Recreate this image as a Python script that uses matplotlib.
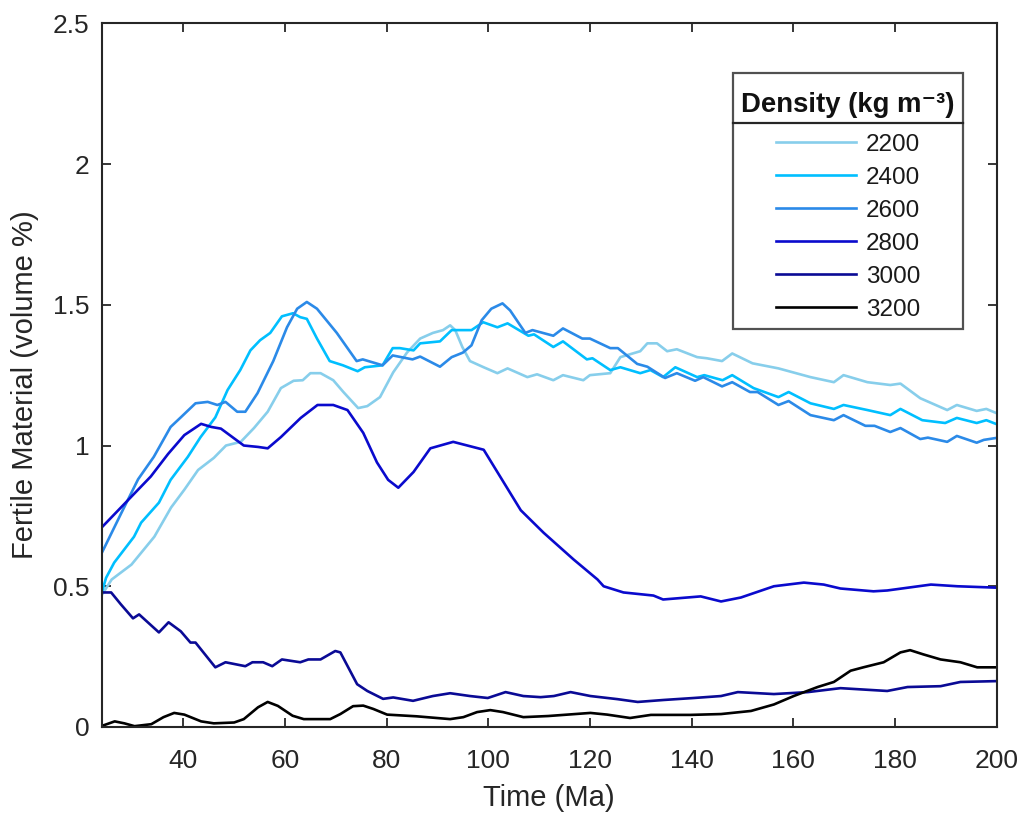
import matplotlib
matplotlib.use("Agg")
import matplotlib.pyplot as plt
from matplotlib.lines import Line2D
from matplotlib.offsetbox import VPacker, DrawingArea

plt.rcParams['font.family'] = ['Liberation Sans', 'DejaVu Sans']

# ---------------- data ----------------
densities = ["2200", "2400", "2600", "2800", "3000", "3200"]
colors = ["#87CEEB", "#00BFFF", "#2B8AE8", "#0A0ACD", "#0A0A95", "#000000"]

t_2200 = [24, 25.9, 29.8, 34.3, 37.6, 40.2, 42.9, 46.0, 48.4, 51.3, 53.9, 56.6, 59.2, 61.7, 63.5, 65.0,
          67.0, 69.5, 71.5, 74.4, 76.2, 78.7, 81.3, 84.0, 86.6, 89.1, 91.1, 92.5, 93.5, 94.9, 96.4,
          99.1, 101.8, 103.8, 107.7, 109.6, 112.8, 114.7, 118.7, 120.0, 124.0, 126.0, 129.9, 131.3,
          133.2, 135.2, 137.1, 141.1, 143.0, 146.0, 148.0, 152.0, 157.1, 163.4, 168.0, 169.9, 174.6,
          179.1, 181.1, 185.0, 190.3, 192.2, 196.1, 198.0, 200]
v_2200 = [0.47, 0.524, 0.577, 0.676, 0.78, 0.843, 0.913, 0.956, 1.00, 1.013, 1.062, 1.12, 1.204, 1.23,
          1.232, 1.257, 1.257, 1.232, 1.19, 1.133, 1.14, 1.172, 1.26, 1.33, 1.38, 1.40, 1.41, 1.427,
          1.41, 1.35, 1.30, 1.278, 1.257, 1.274, 1.243, 1.253, 1.232, 1.25, 1.232, 1.25, 1.257, 1.314,
          1.335, 1.363, 1.363, 1.335, 1.342, 1.314, 1.31, 1.30, 1.327, 1.292, 1.274, 1.243, 1.225,
          1.25, 1.225, 1.215, 1.22, 1.168, 1.126, 1.144, 1.123, 1.13, 1.115]

t_2400 = [24, 24.8, 26.4, 30.3, 31.7, 35.2, 37.5, 40.9, 43.4, 46.3, 48.7, 51.2, 53.2, 55.1, 57.1, 59.4,
          61.6, 63.0, 64.3, 66.3, 68.8, 71.4, 74.3, 75.7, 79.2, 81.2, 82.6, 85.3, 86.6, 90.5, 92.8,
          96.7, 99.0, 101.8, 103.8, 107.9, 109.0, 112.8, 114.7, 119.4, 120.5, 124.0, 126.0, 129.9,
          131.9, 134.4, 136.8, 141.1, 142.5, 146.1, 148.0, 152.2, 157.1, 159.1, 163.4, 168.0, 169.9,
          174.6, 179.1, 181.1, 185.4, 189.9, 192.2, 196.1, 198.0, 200]
v_2400 = [0.48, 0.53, 0.584, 0.676, 0.726, 0.797, 0.878, 0.96, 1.03, 1.10, 1.197, 1.268, 1.338, 1.374,
          1.40, 1.459, 1.47, 1.456, 1.45, 1.38, 1.30, 1.285, 1.264, 1.278, 1.285, 1.346, 1.346, 1.338,
          1.363, 1.37, 1.41, 1.41, 1.438, 1.42, 1.434, 1.39, 1.395, 1.35, 1.37, 1.306, 1.31, 1.268,
          1.278, 1.257, 1.268, 1.243, 1.278, 1.243, 1.25, 1.232, 1.25, 1.204, 1.172, 1.19, 1.15, 1.13,
          1.144, 1.126, 1.108, 1.13, 1.09, 1.08, 1.098, 1.08, 1.09, 1.076]

t_2600 = [24, 27.8, 31.1, 34.2, 37.5, 39.5, 42.4, 44.8, 46.7, 48.3, 50.6, 52.2, 54.6, 57.7, 60.4, 62.4,
          64.3, 66.3, 70.2, 74.1, 75.3, 79.2, 81.2, 85.1, 86.6, 90.5, 92.8, 95.0, 96.7, 98.7, 100.6,
          102.8, 104.3, 107.3, 108.7, 112.8, 114.7, 118.5, 120.0, 124.0, 125.5, 129.3, 131.3, 134.8,
          137.1, 140.7, 142.3, 146.0, 148.0, 151.5, 153.0, 157.1, 159.1, 163.4, 168.0, 169.9, 174.2,
          176.0, 179.1, 181.1, 185.0, 186.5, 190.3, 192.2, 196.1, 197.5, 200]
v_2600 = [0.62, 0.76, 0.88, 0.96, 1.066, 1.10, 1.15, 1.155, 1.144, 1.155, 1.12, 1.12, 1.186, 1.30, 1.42,
          1.486, 1.51, 1.486, 1.40, 1.30, 1.306, 1.285, 1.32, 1.306, 1.316, 1.28, 1.314, 1.33, 1.356,
          1.445, 1.486, 1.505, 1.48, 1.40, 1.41, 1.39, 1.416, 1.38, 1.38, 1.346, 1.346, 1.29, 1.28,
          1.24, 1.257, 1.23, 1.243, 1.21, 1.225, 1.19, 1.19, 1.144, 1.158, 1.108, 1.09, 1.108, 1.07,
          1.07, 1.048, 1.062, 1.023, 1.028, 1.013, 1.034, 1.01, 1.02, 1.027]

t_2800 = [24, 33.6, 37.0, 40.2, 43.5, 45.5, 47.4, 51.9, 54.7, 56.6, 59.2, 63.1, 66.4, 69.5, 72.3, 75.4,
          78.1, 80.3, 82.3, 85.3, 88.6, 93.1, 99.1, 106.4, 110.9, 116.8, 121.5, 122.7, 126.6, 132.5,
          134.4, 141.8, 145.8, 149.7, 156.2, 162.1, 166.0, 169.3, 175.8, 178.5, 187.1, 192.3, 200]
v_2800 = [0.71, 0.89, 0.97, 1.037, 1.077, 1.066, 1.06, 1.00, 0.995, 0.99, 1.03, 1.098, 1.144, 1.144,
          1.126, 1.045, 0.94, 0.878, 0.85, 0.906, 0.99, 1.013, 0.985, 0.77, 0.69, 0.595, 0.524, 0.50,
          0.478, 0.467, 0.453, 0.464, 0.446, 0.46, 0.50, 0.513, 0.506, 0.492, 0.482, 0.485, 0.506,
          0.50, 0.495]

t_3000 = [24, 25.8, 27.7, 30.1, 31.3, 35.2, 37.1, 39.5, 41.4, 42.4, 46.3, 48.3, 52.2, 53.6, 55.7, 57.5,
          59.4, 63.0, 64.6, 67.0, 69.9, 70.9, 74.2, 76.2, 79.3, 81.3, 85.2, 89.1, 92.5, 96.4, 99.9,
          103.4, 106.9, 110.3, 112.9, 116.2, 120.1, 125.4, 129.4, 134.5, 140.4, 145.8, 149.1, 156.2,
          162.9, 169.3, 178.5, 182.5, 189.0, 192.9, 200]
v_3000 = [0.478, 0.478, 0.436, 0.386, 0.40, 0.336, 0.372, 0.34, 0.30, 0.30, 0.212, 0.23, 0.216, 0.23,
          0.23, 0.216, 0.24, 0.23, 0.24, 0.24, 0.27, 0.265, 0.152, 0.128, 0.10, 0.105, 0.093, 0.11,
          0.12, 0.11, 0.103, 0.124, 0.11, 0.106, 0.11, 0.124, 0.11, 0.099, 0.089, 0.096, 0.103, 0.11,
          0.124, 0.117, 0.124, 0.138, 0.128, 0.142, 0.145, 0.16, 0.163]

t_3200 = [24, 26.5, 28.4, 30.4, 33.7, 36.1, 38.2, 40.2, 43.5, 46.0, 50.0, 51.9, 54.7, 56.6, 58.6, 61.5,
          63.7, 68.9, 70.9, 73.4, 75.4, 77.4, 80.1, 85.9, 92.5, 95.1, 97.8, 100.4, 102.9, 106.9, 111.8,
          120.1, 123.4, 127.9, 132.0, 139.8, 145.8, 151.7, 156.2, 160.1, 164.8, 168.0, 171.3, 173.8,
          177.8, 181.1, 183.0, 185.6, 189.0, 192.9, 196.2, 200]
v_3200 = [0.004, 0.02, 0.013, 0.003, 0.01, 0.035, 0.05, 0.044, 0.02, 0.013, 0.016, 0.028, 0.07, 0.089,
          0.075, 0.04, 0.028, 0.028, 0.046, 0.074, 0.076, 0.064, 0.044, 0.038, 0.028, 0.035, 0.053,
          0.06, 0.053, 0.035, 0.039, 0.05, 0.044, 0.032, 0.043, 0.043, 0.046, 0.057, 0.08, 0.11,
          0.142, 0.16, 0.2, 0.212, 0.23, 0.265, 0.273, 0.258, 0.24, 0.23, 0.212, 0.212]

series_t = [t_2200, t_2400, t_2600, t_2800, t_3000, t_3200]
series_v = [v_2200, v_2400, v_2600, v_2800, v_3000, v_3200]

x_ticks = [40, 60, 80, 100, 120, 140, 160, 180, 200]
y_ticks = [0, 0.5, 1, 1.5, 2, 2.5]
y_ticklabels = ["0", "0.5", "1", "1.5", "2", "2.5"]

# ---------------- figure ----------------
fig = plt.figure(figsize=(10.24, 8.14), dpi=100)
ax = fig.add_axes([102 / 1024, 1 - 727 / 814, (996.5 - 102) / 1024, (727 - 23.3) / 814])

dark = "#262626"
for t, v, c, lab in zip(series_t, series_v, colors, densities):
    ax.plot(t, v, color=c, lw=1.9, label=lab, solid_joinstyle="round")

ax.set_xlim(24, 200)
ax.set_ylim(0, 2.5)
ax.set_xticks(x_ticks)
ax.set_yticks(y_ticks)
ax.set_yticklabels(y_ticklabels)
ax.tick_params(direction="in", length=6.5, width=1.3, color=dark, labelcolor=dark,
               labelsize=19, top=True, right=True)
ax.tick_params(axis="x", pad=16)
ax.tick_params(axis="y", pad=9)
for s in ax.spines.values():
    s.set_color(dark)
    s.set_linewidth(1.5)

ax.set_xlabel("Time (Ma)", fontsize=21, color=dark, labelpad=8)
ax.set_ylabel("Fertile Material (volume %)", fontsize=21, color=dark, labelpad=10)
ax.yaxis.label.set_y(0.486)

leg = ax.legend(loc="upper right", bbox_to_anchor=(0.9626, 0.9298), fontsize=17.5,
                title="Density (kg m\u207B\u00B3)", title_fontproperties={"weight": "bold", "size": 19.8},
                frameon=True, fancybox=False, handlelength=3.3, handletextpad=0.4,
                labelspacing=0.45, borderpad=0.35, borderaxespad=0)
title_stack = VPacker(children=[DrawingArea(1, 7.9), leg._legend_title_box, DrawingArea(1, 0.1)],
                      pad=0, sep=0, align="center")
title_stack.set_figure(fig)
leg._legend_box._children[0] = title_stack
leg._legend_box.sep = 11.2
leg.get_frame().set_edgecolor(dark)
leg.get_frame().set_linewidth(1.6)
for txt in leg.get_texts():
    txt.set_color("#1a1a1a")
leg.get_title().set_color("#111111")

fig.canvas.draw()
renderer = fig.canvas.get_renderer()
fb = leg.get_frame().get_window_extent(renderer)
tb = leg.get_title().get_window_extent(renderer)
ysep = tb.y0 - 5
inv = fig.transFigure.inverted()
(x0f, yf), (x1f, _) = inv.transform([(fb.x0, ysep), (fb.x1, ysep)])
fig.add_artist(Line2D([x0f, x1f], [yf, yf], color=dark, lw=1.6, transform=fig.transFigure))

fig.savefig("out.png", dpi=100)
